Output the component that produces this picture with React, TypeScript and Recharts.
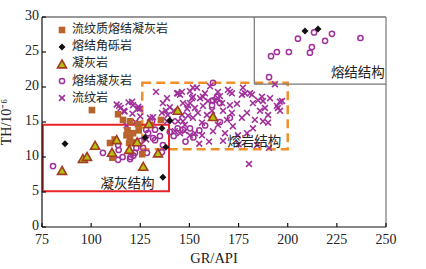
import React from 'react';
import {
  ScatterChart, Scatter, XAxis, YAxis, ReferenceArea, ReferenceLine, ReferenceDot, Legend, Label,
} from 'recharts';

const xTicks = [75, 100, 125, 150, 175, 200, 225, 250];
const yTicks = [0, 5, 10, 15, 20, 25, 30];

const squareData: [number, number][] = [
  [100.4, 16.7], [113.7, 16.1], [116.2, 15.3], [119.8, 15.1], [118.5, 13.8], [124.2, 13.8],
  [119.8, 12.7], [119.3, 12.0], [109.6, 12.0], [110.8, 9.9], [126, 10.4], [118, 13.1],
  [121.3, 13.4], [130, 14.6], [135.5, 15.3], [112, 12.5], [123.8, 14.7], [120.8, 12.1],
];
const blackData: [number, number][] = [
  [86.7, 11.9], [136.5, 7.1], [136, 14.1], [138, 11.4], [127.4, 12.8], [140, 15.2],
  [208.8, 28.0], [215.4, 28.3],
];
const triangleData: [number, number][] = [
  [85.2, 8.0], [95.8, 9.7], [97.9, 10.0], [102, 11.6], [110.6, 10.6], [113, 12.4],
  [119.4, 11.0], [123.4, 12.1], [126.5, 8.6], [134, 10.5], [129.4, 14.7], [144, 16.6], [162, 15.7],
];
const hollowData: [number, number][] = [
  [205.2, 26.9], [213.4, 27.8], [219, 26.6], [222.5, 27.6], [237, 27], [212.3, 25.7],
  [211.3, 24.9], [200.6, 25], [194.5, 25], [191.5, 24.4], [190.5, 21.4], [162, 20.6],
  [80.6, 8.7], [106, 10.6], [114, 11.0], [113.7, 9.6], [116, 10.0], [119.8, 9.7],
  [122.3, 10.6], [121.5, 10.2], [126.4, 11.3], [113.7, 11.7], [120, 10], [123, 11.3],
  [125.3, 12.3], [128.4, 10.6], [136, 10.7], [131.5, 12.7], [128, 13.9],
  [131, 15.1], [132.5, 13.9], [129, 13.4], [135, 13], [136.5, 11.7], [132.5, 12.4],
  [170.6, 15.6], [165.5, 15], [162, 18.1], [164, 18.6], [165.5, 17.7], [161.5, 17.4],
  [144, 14.1], [146.7, 13.9], [150.3, 14.1], [142, 13], [155, 13.8], [158, 14.5],
  [148, 12.2], [152, 12.8], [140, 13.6],
];
const crossData: [number, number][] = [
  [113, 17.5], [115, 17.0], [117, 16.5], [119, 17.8], [121, 16.2], [122.5, 15.0], [124, 17.2],
  [125, 15.8], [118, 14.5], [114.2, 17.3], [116.7, 16.6], [121.3, 17.4], [120.8, 17.9],
  [123.8, 16.9], [124.8, 16.9],
  [129.9, 15.6], [131.5, 15.7], [136, 16.3], [136.5, 17.7], [138, 16.6], [139, 16], [140, 17.1],
  [142, 16.6], [143.7, 19.1], [144.2, 15.1], [145.2, 18.9], [146.2, 16], [146.7, 17.7],
  [147.7, 14.6], [148.8, 16.9], [149.3, 17.4], [149.3, 15.9], [150.3, 19.4], [151.3, 18.4],
  [151.8, 15.6], [152.8, 17], [153.8, 19.9], [154.3, 16.3], [155.4, 18.4], [156.4, 14.9],
  [156.9, 17.3], [157.9, 19.1], [158.9, 16], [159.4, 18], [160.5, 20.1], [161.5, 16.6],
  [142.6, 13.7], [145.2, 13.4], [147.7, 13.7], [150.3, 13.1], [152.8, 13.4], [156.4, 13.1],
  [146.7, 15.1], [141.1, 15.1], [138.6, 15.1], [138.6, 18.4], [144.2, 19.1], [146.2, 19.3],
  [150.3, 17.7], [151.8, 18.6],
  [163, 18], [164.5, 18.4], [169.6, 19.6], [171.6, 19.1], [177.2, 19.9], [178.3, 19.1],
  [181.8, 18.9], [184.9, 18.1], [187.4, 18], [170.6, 17.4], [174.2, 17.6], [182.3, 17.7],
  [188.4, 17], [194.5, 17.3], [197.1, 18], [167.1, 16.6], [171.6, 16.3], [179.3, 16.3],
  [185.9, 16.6], [190, 16], [196.1, 16.6], [169.1, 15.3], [176.7, 15.6], [183.3, 15.3],
  [190, 14.9], [164.5, 14.6], [172.1, 14.4], [182.3, 14.1], [187.4, 15.1], [162, 13.7],
  [168.1, 13.4], [174.7, 13.1], [179.3, 13.4], [167.1, 12.3], [184.4, 11.7], [165.5, 18.7],
  [180.3, 9.0], [190.5, 11.3], [193.5, 20.4], [133, 19.3], [128, 12.5], [160, 12.2],
  [155, 11.9], [175, 11.8], [151.8, 19.9], [156.9, 18.6], [164.5, 19.3], [170.6, 19.3],
  [176.7, 18.9], [180.8, 19.1], [186.9, 18.6], [191, 18.4], [196, 17.9], [195, 17], [166.6, 17.7],
];

const legendNames = ['流纹质熔结凝灰岩', '熔结角砾岩', '凝灰岩', '熔结凝灰岩', '流纹岩'];

const toRows = (arr: [number, number][]) => arr.map(([x, y]) => ({ x, y }));

const PURPLE = '#a0309a';
const BROWN = '#b8642c';
const TRI_FILL = '#b5c20e';
const TRI_STROKE = '#a33a22';

const SquareShape = (p: any) => (
  <rect x={p.cx - 3.3} y={p.cy - 3.3} width={6.6} height={6.6} fill={BROWN} />
);
const DiamondShape = (p: any) => (
  <path d={`M${p.cx},${p.cy - 3.5}L${p.cx + 3.5},${p.cy}L${p.cx},${p.cy + 3.5}L${p.cx - 3.5},${p.cy}Z`} fill="#111" />
);
const TriangleShape = (p: any) => (
  <path d={`M${p.cx},${p.cy - 4.5}L${p.cx + 4.5},${p.cy + 3.4}L${p.cx - 4.5},${p.cy + 3.4}Z`} fill={TRI_FILL} stroke={TRI_STROKE} strokeWidth={1.6} />
);
const HollowShape = (p: any) => (
  <circle cx={p.cx} cy={p.cy} r={2.6} fill="none" stroke={PURPLE} strokeWidth={1.5} />
);
const CrossShape = (p: any) => (
  <path d={`M${p.cx - 2.9},${p.cy - 2.9}L${p.cx + 2.9},${p.cy + 2.9}M${p.cx - 2.9},${p.cy + 2.9}L${p.cx + 2.9},${p.cy - 2.9}`} stroke={PURPLE} strokeWidth={1.6} />
);

const legendIcons = [
  <svg width={12} height={12} key="a"><SquareShape cx={6} cy={6} /></svg>,
  <svg width={12} height={12} key="b"><DiamondShape cx={6} cy={6} /></svg>,
  <svg width={12} height={12} key="c"><TriangleShape cx={6} cy={6.5} /></svg>,
  <svg width={12} height={12} key="d"><HollowShape cx={6} cy={6} /></svg>,
  <svg width={12} height={12} key="e"><CrossShape cx={6} cy={6} /></svg>,
];

const LegendContent = () => (
  <div style={{ fontFamily: '"Noto Sans CJK SC", sans-serif', fontSize: 12, color: '#222' }}>
    {legendNames.map((n, i) => (
      <div key={n} style={{ display: 'flex', alignItems: 'center', height: 17.2 }}>
        <div style={{ width: 12, height: 12, marginRight: 4 }}>{legendIcons[i]}</div>
        <span>{n}</span>
      </div>
    ))}
  </div>
);

const serif = '"Liberation Serif", "Times New Roman", serif';
const cjk = '"Noto Sans CJK SC", sans-serif';

export default function App() {
  return (
    <div style={{ position: 'absolute', left: 0, top: 0, width: 426, height: 269, background: '#fff' }}>
      <ScatterChart width={426} height={269} margin={{ top: 17, right: 40, bottom: 0, left: 0 }}>
        <XAxis
          type="number" dataKey="x" domain={[75, 250]} ticks={xTicks} interval={0}
          tickSize={-4} tickMargin={11} stroke="#111" strokeWidth={1.2} height={42}
          tick={{ fontFamily: serif, fontSize: 14, fill: '#222' }} allowDataOverflow
        >
          <Label value="GR/API" position="insideBottom" offset={6} style={{ fontFamily: serif, fontSize: 14.5, fill: '#222' }} />
        </XAxis>
        <YAxis
          type="number" dataKey="y" domain={[0, 30]} ticks={yTicks} interval={0}
          tickSize={-4} tickMargin={7} stroke="#111" strokeWidth={1.2} width={42}
          tick={{ fontFamily: serif, fontSize: 14, fill: '#222', dy: -2 }} allowDataOverflow
        >
          <Label value="TH/10⁻⁶" angle={-90} position="insideLeft" offset={6} style={{ fontFamily: serif, fontSize: 14, fill: '#222', textAnchor: 'middle' }} />
        </YAxis>
        <ReferenceLine y={30} stroke="#333" strokeWidth={1.2} />
        <ReferenceLine x={250} stroke="#777" strokeWidth={1.2} />
        <ReferenceLine segment={[{ x: 183, y: 20.4 }, { x: 183, y: 30 }]} stroke="#777" strokeWidth={1.2} />
        <ReferenceLine segment={[{ x: 183, y: 20.4 }, { x: 250, y: 20.4 }]} stroke="#777" strokeWidth={1.2} />
        <Scatter data={toRows(crossData)} shape={CrossShape} isAnimationActive={false} legendType="none" />
        <Scatter data={toRows(hollowData)} shape={HollowShape} isAnimationActive={false} legendType="none" />
        <ReferenceArea x1={126} x2={200} y1={11.1} y2={20.6} fill="none" stroke="#f0902a" strokeWidth={2.5} strokeDasharray="9 5" ifOverflow="visible" />
        <ReferenceArea x1={75.4} x2={139.6} y1={5.1} y2={14.6} fill="none" stroke="#e82228" strokeWidth={2} ifOverflow="visible" />
        <Scatter data={toRows(blackData)} shape={DiamondShape} isAnimationActive={false} legendType="none" />
        <Scatter data={toRows(squareData)} shape={SquareShape} isAnimationActive={false} legendType="none" />
        <Scatter data={toRows(triangleData)} shape={TriangleShape} isAnimationActive={false} legendType="none" />
        <ReferenceDot x={235.7} y={22.1} r={0} fill="none" stroke="none"
          label={{ value: '熔结结构', position: 'center', style: { fontFamily: cjk, fontSize: 13.5, fill: '#222' } }} />
        <ReferenceDot x={183} y={12.3} r={0} fill="none" stroke="none"
          label={{ value: '熔岩结构', position: 'center', style: { fontFamily: cjk, fontSize: 13.5, fill: '#222' } }} />
        <ReferenceDot x={118.5} y={6.3} r={0} fill="none" stroke="none"
          label={{ value: '凝灰结构', position: 'center', style: { fontFamily: cjk, fontSize: 13.5, fill: '#222' } }} />
        <Legend content={LegendContent} layout="vertical" verticalAlign="middle" align="center"
          wrapperStyle={{ position: 'absolute', left: 56, top: 19, width: 'auto', height: 'auto' }} />
      </ScatterChart>
    </div>
  );
}
